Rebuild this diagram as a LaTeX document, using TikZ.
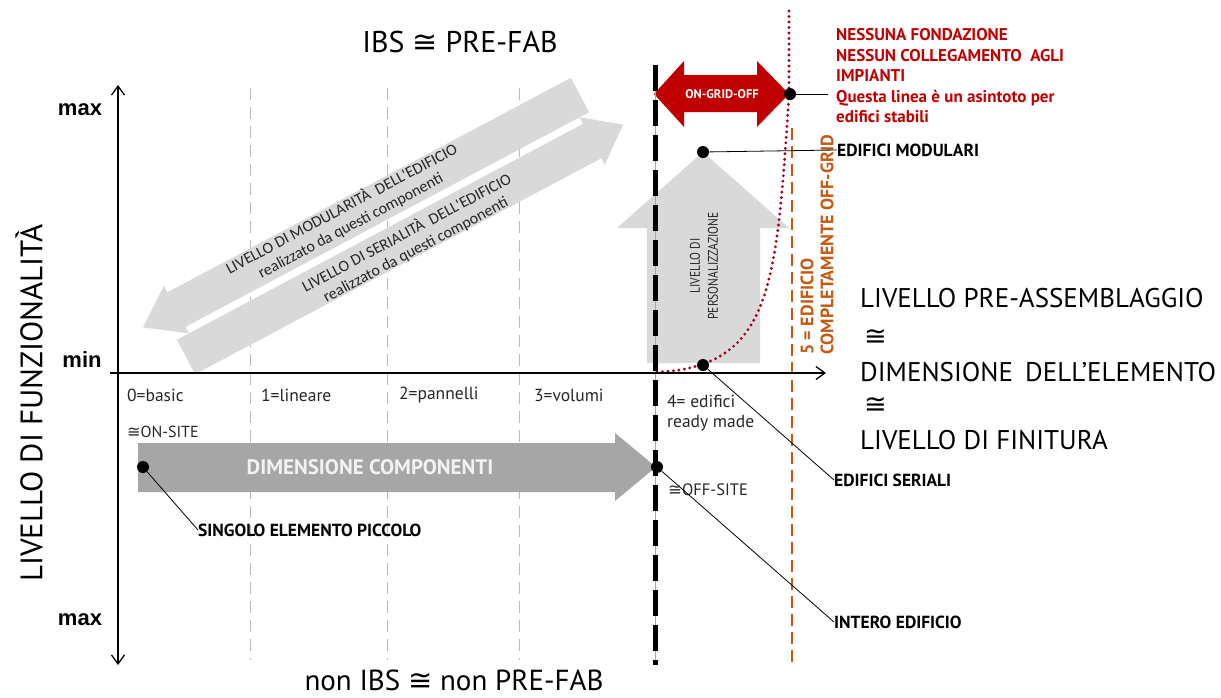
\documentclass[tikz,border=0pt]{standalone}
\usepackage{fontspec}
\setmainfont{PT Sans}
\newfontfamily\fontarial{Liberation Sans}
\newfontfamily\fontcalib{Carlito}
\newfontfamily\fontsimb{DejaVu Sans}
\newfontfamily\fontstretta[FakeStretch=0.82]{PT Sans}
\usepackage{xcolor}
\usetikzlibrary{calc,arrows.meta}
\definecolor{rosso}{HTML}{C00000}
\definecolor{rossoscuro}{HTML}{A3001E}
\definecolor{arancio}{HTML}{C65911}
\definecolor{grigiochiaro}{HTML}{D9D9D9}
\definecolor{grigiomedio}{HTML}{A6A6A6}
\newcommand{\quasi}{{\fontsimb ≅}}

\begin{document}
\begin{tikzpicture}[x=1pt,y=-1pt,
  every node/.style={inner sep=0pt},
  puntino/.style={circle,fill=black,minimum size=12pt},
  etich/.style={font=\fontsize{17.5}{19}\selectfont\bfseries,anchor=west},
  tacca/.style={font=\fontsize{17.5}{20}\selectfont,anchor=west,text=black!85},
  grande/.style={font=\fontsize{27}{30}\selectfont,anchor=west},
  estremo/.style={font=\fontarial\fontsize{22}{24}\selectfont\bfseries},
  diag/.style={font=\fontcalib\fontsize{16}{19}\selectfont,align=center,text=black!85,rotate=28},
  guida/.style={line width=0.8pt},
  freccia/.style={line width=1.3pt,{Straight Barb[length=9pt,width=13pt]}-{Straight Barb[length=9pt,width=13pt]}},
  griglia/.style={gray!55,line width=1pt,dash pattern=on 12pt off 7pt}]
  \useasboundingbox (0,0) rectangle (1221,697);
  % griglia
  \foreach \gx in {250,387,519}
    \draw[griglia] (\gx,88) -- (\gx,660);
  % frecce diagonali
  \begin{scope}[shift={(580,95)},rotate=208]
    \fill[grigiochiaro] (0,-19.5) -- (457,-19.5) -- (457,-27) -- (495,0)
      -- (457,27) -- (457,19.5) -- (0,19.5) -- cycle;
  \end{scope}
  \begin{scope}[shift={(186,357)},rotate=28]
    \fill[grigiochiaro] (0,-19.5) -- (460,-19.5) -- (460,-27) -- (495,0)
      -- (460,27) -- (460,19.5) -- (0,19.5) -- cycle;
  \end{scope}
  \node[diag] (modul) at (346,217) {LIVELLO DI MODULARITÀ\ \ DELL'EDIFICIO\\realizzato da questi componenti};
  \node[diag] (serial) at (411,241) {LIVELLO DI SERIALITÀ\ \ DELL'EDIFICIO\\realizzato da questi componenti};
  % freccia dimensione componenti
  \fill[grigiomedio] (138,443) -- (615,443) -- (615,433) -- (656,467)
    -- (615,501) -- (615,492) -- (138,492) -- cycle;
  \node[font=\fontsize{21}{24}\selectfont\bfseries,text=white!95!black] (dimcomp) at (370,467) {DIMENSIONE COMPONENTI};
  % freccia personalizzazione
  \fill[grigiochiaro] (647,363) -- (647,228) -- (617,228) -- (703,152)
    -- (789,228) -- (760,228) -- (760,363) -- cycle;
  \node[rotate=90,align=center,font=\fontstretta\fontsize{14}{18}\selectfont,text=black!85] (person) at (704,266) {LIVELLO DI\\PERSONALIZZAZIONE};
  % off-grid
  \draw[arancio,line width=1.5pt,dash pattern=on 12pt off 6pt] (792,128) -- (792,665);
  \node[rotate=90,anchor=west,align=left,text=arancio,font=\fontsize{18}{20}\selectfont\bfseries] (offgrid) at (817,355) {5 = EDIFICIO\\COMPLETAMENTE OFF-GRID};
  % asintoto
  \draw[rossoscuro,line width=3.2pt,line cap=round,dash pattern=on 0pt off 5.5pt]
    plot[smooth,tension=0.55] coordinates {(657,372) (680,370) (703,364) (722,355) (740,340)
      (755,318) (766,290) (774,255) (779,220) (783,180) (786,140) (788,110) (789,94)} -- (789,10);
  % freccia on-grid-off
  \fill[rosso] (654,94) -- (684,61) -- (684,75) -- (757,75) -- (757,61) -- (789,94)
    -- (757,127) -- (757,112) -- (684,112) -- (684,127) -- cycle;
  \node[font=\fontsize{12.5}{14}\selectfont\bfseries,text=white] (ongrid) at (722,94) {ON-GRID-OFF};
  % limite prefabbricazione
  \draw[gray!70,line width=0.8pt] (655,65) -- (655,665);
  \draw[line width=5pt,dash pattern=on 26pt off 9pt] (655,65) -- (655,665);
  % assi
  \draw[freccia] (118,85) -- (118,665);
  \draw[freccia,-{Straight Barb[length=9pt,width=13pt]}] (110,373) -- (826,373);
  \node[estremo] (maxsu) at (80,110) {max};
  \node[estremo] (min) at (82,360) {min};
  \node[estremo] (maxgiu) at (80,620) {max};
  \node[rotate=90,font=\fontsize{31}{33}\selectfont] (funz) at (29,403) {LIVELLO DI FUNZIONALITÀ};
  \node[font=\fontsize{30}{34}\selectfont] (ibs) at (460,42) {IBS \quasi\ PRE-FAB};
  \node[font=\fontsize{29}{34}\selectfont] (nonibs) at (454,680) {non IBS \quasi\ non PRE-FAB};
  % tacche
  \node[tacca] (t0) at (127,395) {0=basic};
  \node[tacca] (t1) at (261,395) {1=lineare};
  \node[tacca] (t2) at (399,395) {2=pannelli};
  \node[tacca] (t3) at (534,395) {3=volumi};
  \node[tacca,align=left,font=\fontsize{17.5}{20}\selectfont] (t4) at (667,413) {4= edifici\\ready made};
  \node[tacca,font=\fontsize{16}{20}\selectfont] (onsite) at (127,432) {\quasi ON-SITE};
  \node[tacca,font=\fontsize{16.5}{20}\selectfont] (offsite) at (668,490) {\quasi OFF-SITE};
  % testo a destra
  \node[grande] (preass) at (860,298) {LIVELLO PRE-ASSEMBLAGGIO};
  \node[grande] (eq1) at (864,337) {\quasi};
  \node[grande] (dimel) at (860,372) {DIMENSIONE\hspace{0.45em}DELL'ELEMENTO};
  \node[grande] (eq2) at (864,405) {\quasi};
  \node[grande] (finit) at (860,440) {LIVELLO DI FINITURA};
  % punti e richiami
  \node[puntino] (pSing) at (143,467) {};
  \node[puntino] (pInt) at (657,467) {};
  \node[puntino] (pSer) at (703,365) {};
  \node[puntino] (pMod) at (703,152) {};
  \node[puntino] (pAsi) at (790,94) {};
  \node[etich] (lSing) at (198,530) {SINGOLO ELEMENTO PICCOLO};
  \node[etich] (lInt) at (834,622) {INTERO EDIFICIO};
  \node[etich] (lSer) at (834,480) {EDIFICI SERIALI};
  \node[etich] (lMod) at (837,150) {EDIFICI MODULARI};
  \node[anchor=west,align=left,text=rosso,font=\fontsize{17}{20.5}\selectfont\bfseries] (nota) at (836,76)
    {NESSUNA FONDAZIONE\\NESSUN COLLEGAMENTO\ \ AGLI\\IMPIANTI\\Questa linea è un asintoto per\\edifici stabili};
  \draw[guida] (pSing) -- (lSing.west);
  \draw[guida] (pInt) -- (lInt.west);
  \draw[guida] (pSer) -- (lSer.west);
  \draw[guida] (pMod) -- (lMod.west);
  \draw[guida] (pAsi) -- ($(pAsi -| nota.west)+(-8,0)$);
\end{tikzpicture}
\end{document}
